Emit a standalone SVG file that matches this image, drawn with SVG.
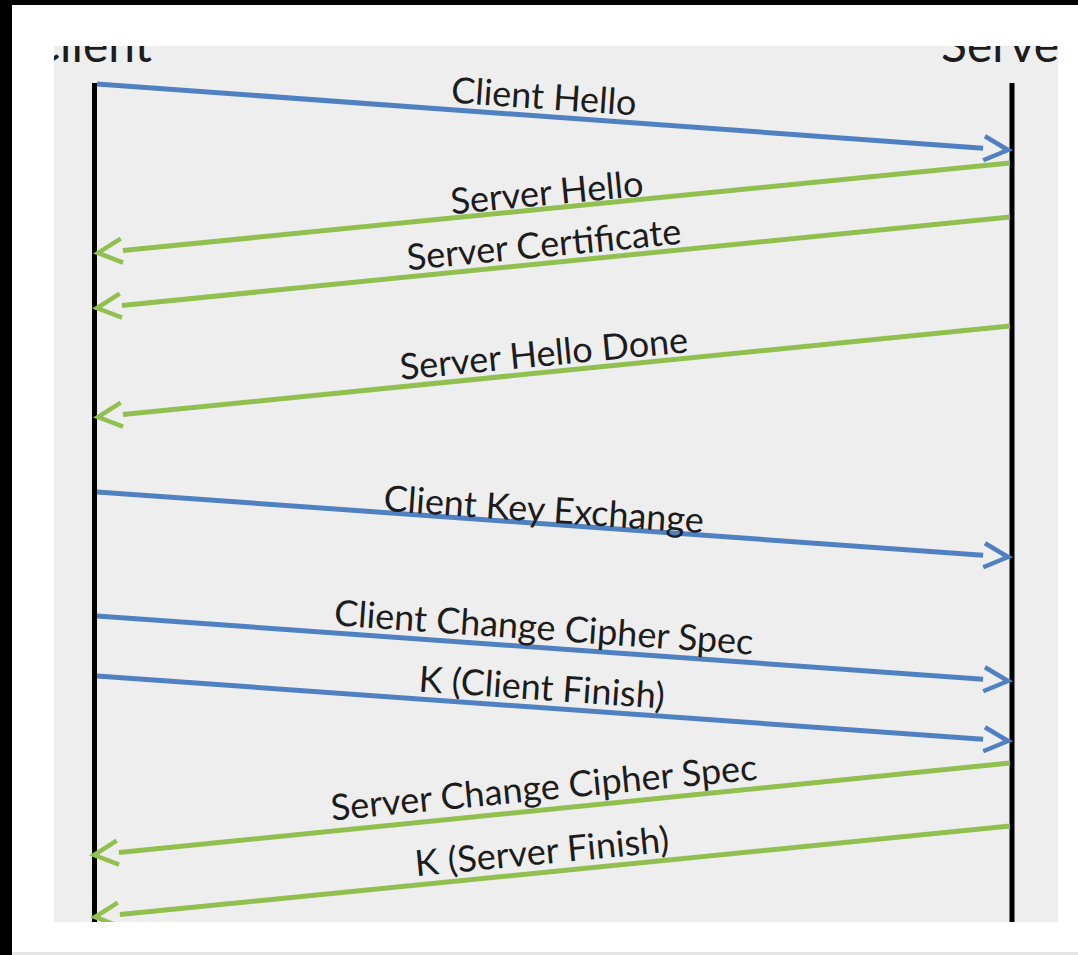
<svg xmlns="http://www.w3.org/2000/svg" width="1078" height="955" viewBox="0 0 1078 955">
  <style>
    .lbl { font-family: Lato, "Liberation Sans", sans-serif; font-size: 36px; fill: #1c1c1c; text-anchor: middle; }
    .hdr { font-family: Lato, "Liberation Sans", sans-serif; font-size: 48px; fill: #1c1c1c; }
    .life { stroke: #000; stroke-width: 5; fill: none; }
    .blue { stroke: #4f81c2; stroke-width: 5; fill: none; }
    .green { stroke: #92c050; stroke-width: 5; fill: none; }
  </style>
  <defs>
    <clipPath id="area">
      <rect x="54" y="46" width="1004" height="876"/>
    </clipPath>
    <marker id="headB" markerUnits="userSpaceOnUse" markerWidth="30" markerHeight="30" refX="0" refY="0" orient="auto" overflow="visible">
      <path d="M1,-12 L25,0 L1,12" fill="none" stroke="#4f81c2" stroke-width="4.5" stroke-linejoin="miter"/>
    </marker>
    <marker id="headG" markerUnits="userSpaceOnUse" markerWidth="30" markerHeight="30" refX="0" refY="0" orient="auto" overflow="visible">
      <path d="M1,-12 L25,0 L1,12" fill="none" stroke="#92c050" stroke-width="4.5" stroke-linejoin="miter"/>
    </marker>
  </defs>

  <!-- frame -->
  <rect x="0" y="0" width="1078" height="955" fill="#ffffff"/>
  <rect x="0" y="0" width="1078" height="5" fill="#000000"/>
  <rect x="0" y="0" width="12" height="955" fill="#000000"/>
  <rect x="12" y="952" width="1066" height="3" fill="#e6e6e6"/>
  <rect x="54" y="46" width="1004" height="876" fill="#eeeeee"/>

  <g clip-path="url(#area)">
    <g id="client">
      <text class="hdr" x="28" y="62">Client</text>
      <line class="life" x1="94.5" y1="83" x2="94.5" y2="922"/>
    </g>
    <g id="server">
      <text class="hdr" x="941" y="62">Server</text>
      <line class="life" x1="1012" y1="83" x2="1012" y2="922"/>
    </g>

    <g id="connectors">
      <line class="blue" x1="97" y1="84" x2="983.1" y2="148.2" marker-end="url(#headB)"/>
      <line class="green" x1="1010" y1="163" x2="122.9" y2="250.5" marker-end="url(#headG)"/>
      <line class="green" x1="1010" y1="217" x2="121.9" y2="305.5" marker-end="url(#headG)"/>
      <line class="green" x1="1010" y1="326" x2="122.9" y2="414.5" marker-end="url(#headG)"/>
      <line class="blue" x1="97" y1="492" x2="983.1" y2="555.2" marker-end="url(#headB)"/>
      <line class="blue" x1="97" y1="616" x2="983.1" y2="679.2" marker-end="url(#headB)"/>
      <line class="blue" x1="97" y1="676" x2="983.1" y2="739.2" marker-end="url(#headB)"/>
      <line class="green" x1="1010" y1="763" x2="118.9" y2="852.5" marker-end="url(#headG)"/>
      <line class="green" x1="1010" y1="826" x2="119.9" y2="914.5" marker-end="url(#headG)"/>
    </g>

    <g id="labels">
      <text class="lbl" transform="translate(543,109) rotate(4)">Client Hello</text>
      <text class="lbl" transform="translate(548,205) rotate(-5.5)">Server Hello</text>
      <text class="lbl" transform="translate(545,257) rotate(-5.5)">Server Certificate</text>
      <text class="lbl" transform="translate(545,366) rotate(-5.5)">Server Hello Done</text>
      <text class="lbl" transform="translate(543,522) rotate(4)">Client Key Exchange</text>
      <text class="lbl" transform="translate(543,640) rotate(4)">Client Change Cipher Spec</text>
      <text class="lbl" transform="translate(541,700) rotate(4)">K (Client Finish)</text>
      <text class="lbl" transform="translate(545,800) rotate(-5.5)">Server Change Cipher Spec</text>
      <text class="lbl" transform="translate(543,864) rotate(-5.5)">K (Server Finish)</text>
    </g>
  </g>
</svg>
